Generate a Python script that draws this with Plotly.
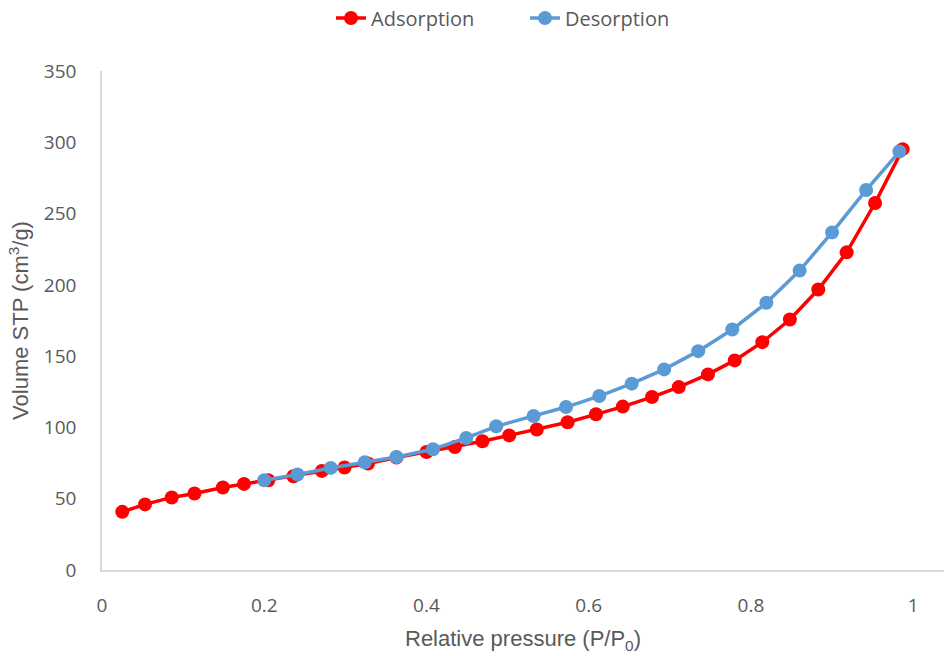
import plotly.graph_objects as go

ads_x = [0.025, 0.053, 0.086, 0.114, 0.149, 0.175, 0.205, 0.236, 0.271, 0.299,
         0.328, 0.363, 0.400, 0.435, 0.469, 0.502, 0.536, 0.574, 0.609, 0.642,
         0.678, 0.711, 0.747, 0.780, 0.814, 0.848, 0.883, 0.918, 0.953, 0.987]
ads_y = [40.8, 46.0, 50.9, 53.7, 57.9, 60.4, 63.0, 65.8, 69.5, 71.9,
         74.7, 78.9, 82.8, 86.3, 90.3, 94.4, 98.5, 103.6, 109.2, 114.6,
         121.3, 128.3, 137.2, 147.0, 159.8, 175.7, 196.7, 222.8, 257.4, 295.2]

des_x = [0.983, 0.942, 0.900, 0.860, 0.819, 0.777, 0.735, 0.693, 0.653, 0.613,
         0.572, 0.532, 0.486, 0.449, 0.408, 0.363, 0.324, 0.282, 0.241, 0.200]
des_y = [293.5, 266.5, 236.8, 210.0, 187.4, 168.7, 153.5, 140.7, 130.7, 122.0,
         114.3, 108.0, 100.8, 92.6, 84.7, 79.3, 75.6, 71.6, 67.0, 63.0]

x_ticks = [0, 0.2, 0.4, 0.6, 0.8, 1.0]
x_tick_labels = ["0", "0.2", "0.4", "0.6", "0.8", "1"]
y_ticks = [0, 50, 100, 150, 200, 250, 300, 350]

fig = go.Figure()
fig.add_trace(go.Scatter(
    x=ads_x, y=ads_y, mode="lines+markers", name="Adsorption",
    line=dict(color="#FF0000", width=3.5),
    marker=dict(color="#FF0000", size=14),
))
fig.add_trace(go.Scatter(
    x=des_x, y=des_y, mode="lines+markers", name="Desorption",
    line=dict(color="#5B9BD5", width=3.5),
    marker=dict(color="#5B9BD5", size=14),
))

tick_font = dict(family="Open Sans, Noto Sans, sans-serif", size=19, color="#595959")
title_font = dict(family="Liberation Sans, Arial, sans-serif", size=22, color="#595959")

fig.update_layout(
    width=944, height=656,
    margin=dict(l=102, r=0, t=71, b=86),
    paper_bgcolor="white", plot_bgcolor="white",
    showlegend=True,
    legend=dict(
        orientation="h", x=0.272, xanchor="left",
        y=1 - 18 / 656, yref="container", yanchor="middle",
        font=dict(family="Open Sans, Noto Sans, sans-serif", size=20, color="#595959"),
        entrywidth=149, entrywidthmode="pixels", traceorder="normal",
    ),
    xaxis=dict(
        range=[0, 1.038], tickvals=x_ticks, ticktext=x_tick_labels,
        showgrid=False, zeroline=False, showline=True, linecolor="#D9D9D9", linewidth=1.5,
        ticks="", tickfont=tick_font, ticklabelstandoff=17,
        title=dict(text="Relative pressure (P/P<sub>0</sub>)", font=title_font, standoff=14),
    ),
    yaxis=dict(
        range=[0, 350], tickvals=y_ticks,
        showgrid=False, zeroline=False, showline=True, linecolor="#D9D9D9", linewidth=1.5,
        ticks="", tickfont=tick_font, ticklabelstandoff=20,
        title=dict(text="Volume STP (cm<sup>3</sup>/g)", font=title_font, standoff=9),
    ),
)

fig.write_html("out.html")
